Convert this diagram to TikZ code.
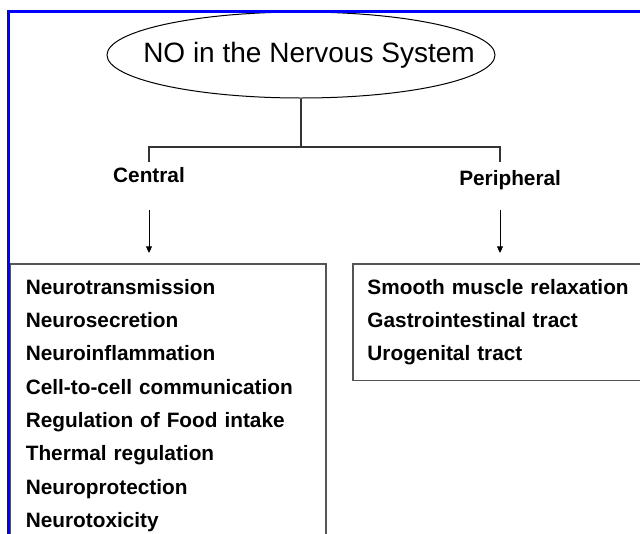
\documentclass[tikz,border=0pt]{standalone}
\usepackage{fontspec}
\setmainfont{Liberation Sans}
\usetikzlibrary{shapes.geometric,arrows.meta}
\definecolor{frameblue}{RGB}{0,0,255}
\definecolor{boxgray}{RGB}{85,85,85}
\tikzset{
  listbox/.style={draw=boxgray, line width=1.2pt, anchor=north west, align=left,
    inner xsep=12pt, inner ysep=11.5pt, font=\fontsize{15.6}{25}\selectfont\bfseries},
  branchlabel/.style={inner sep=0pt, anchor=base, font=\fontsize{15.6}{18}\selectfont\bfseries},
  arr/.style={-{Triangle[length=5pt,width=4.5pt]}, line width=0.75pt},
  branch/.style={line width=0.9pt, draw=black!80},
}
\begin{document}
\begin{tikzpicture}[x=0.75pt, y=-0.75pt]
  \useasboundingbox (0,0) rectangle (640,533);
  \clip (0,0) rectangle (640,533);

  % 标题椭圆（文字作为居中标签）
  \node[ellipse, draw, line width=0.75pt, minimum width=291pt, minimum height=64.5pt,
    inner sep=0pt, label={[font=\fontsize{21}{25}\selectfont, xshift=6pt]center:NO in the Nervous System}]
    (title) at (301,55) {};

  % 两个分支标签
  \node[branchlabel] (central) at (149,182) {Central};
  \node[branchlabel, anchor=base west] (periph) at (459,185) {Peripheral};

  % 两个列表框
  \node[listbox, text width=213pt] (clist) at (9,263) {Neurotransmission\\Neurosecretion\\Neuroinflammation\\Cell-to-cell communication\\Regulation of Food intake\\Thermal regulation\\Neuroprotection\\Neurotoxicity};
  \node[listbox, text width=224pt, inner xsep=11pt] (plist) at (352,263) {Smooth muscle relaxation\\Gastrointestinal tract\\Urogenital tract};

  % 分叉线
  \coordinate (bar) at (0,147);
  \coordinate (cdrop) at (149,162);
  \coordinate (pdrop) at (500,162);
  \draw[branch] (title.south) -- (title.south |- bar);
  \draw[branch] (cdrop) -- (cdrop |- bar) -- (pdrop |- bar) -- (pdrop);

  % 箭头
  \draw[arr, shorten <=21pt, shorten >=7.5pt] (cdrop |- central.south) -- (cdrop |- clist.north);
  \draw[arr, shorten <=15.5pt, shorten >=7.5pt] (pdrop |- periph.south) -- (pdrop |- plist.north);

  % 蓝色边框
  \draw[frameblue, line width=2.25pt] (8,560) -- (8,11) -- (660,11);
\end{tikzpicture}
\end{document}
